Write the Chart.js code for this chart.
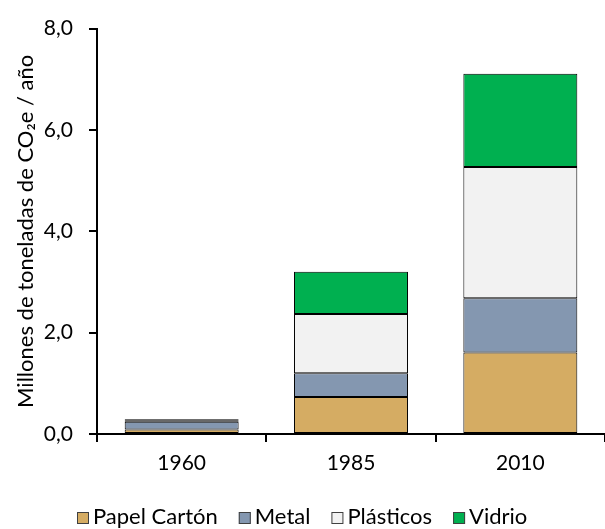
<!DOCTYPE html>
<html>
<head>
<meta charset="utf-8">
<script src="https://cdn.jsdelivr.net/npm/chart.js@4.4.1/dist/chart.umd.min.js"></script>
<style>
    html, body { margin: 0; padding: 0; background: #fff; }
    #wrap { width: 605px; height: 529px; position: relative; }
</style>
</head>
<body>
<div id="wrap"><canvas id="grafico"></canvas></div>
<script>
// datos (millones de t CO2e / año)
const categorias = ['1960', '1985', '2010'];
const papelCarton = [0.09, 0.73, 1.61];
const metal = [0.15, 0.47, 1.07];
const plasticos = [0.02, 1.17, 2.59];
const vidrio = [0.03, 0.83, 1.84];
const ticksY = [0, 2, 4, 6, 8];

const fuenteTicks = { family: 'Lato', size: 21 };
const fuenteTitulo = { family: 'Lato', size: 22 };

function serie(nombre, valores, color) {
    return {
        label: nombre,
        data: valores,
        backgroundColor: color,
        borderColor: '#000000',
        borderWidth: 1,
        borderSkipped: false,
        categoryPercentage: 1,
        barPercentage: 0.673
    };
}

// leyenda propia: cuadro pequeño pegado al texto, como en el original
const leyendaPlugin = {
    id: 'leyenda',
    afterDraw: function (chart) {
        const c = chart.ctx;
        const caja = 12, sepTexto = 4, sepItem = 21, base = 524;
        c.save();
        c.font = '22px Lato';
        c.textBaseline = 'alphabetic';
        c.textAlign = 'left';
        const items = chart.data.datasets.map(function (ds) {
            return { texto: ds.label, color: ds.backgroundColor, ancho: c.measureText(ds.label).width };
        });
        let total = sepItem * (items.length - 1);
        items.forEach(function (it) { total += caja + sepTexto + it.ancho; });
        let x = Math.round((chart.width - total) / 2);
        items.forEach(function (it) {
            c.fillStyle = it.color;
            c.fillRect(x, base - caja, caja, caja);
            c.strokeStyle = '#404040';
            c.lineWidth = 1;
            c.strokeRect(x + 0.5, base - caja + 0.5, caja - 1, caja - 1);
            c.fillStyle = '#000000';
            c.fillText(it.texto, x + caja + sepTexto, base);
            x += caja + sepTexto + it.ancho + sepItem;
        });
        c.restore();
    }
};

const ctx = document.getElementById('grafico').getContext('2d');
new Chart(ctx, {
    type: 'bar',
    data: {
        labels: categorias,
        datasets: [
            serie('Papel Cartón', papelCarton, '#D5AC63'),
            serie('Metal', metal, '#8497B0'),
            serie('Plásticos', plasticos, '#F2F2F2'),
            serie('Vidrio', vidrio, '#00B050')
        ]
    },
    plugins: [leyendaPlugin],
    options: {
        responsive: true,
        maintainAspectRatio: false,
        animation: false,
        layout: {
            padding: { top: 26, right: 0, bottom: 42, left: 0 }
        },
        plugins: {
            legend: { display: false },
            tooltip: { enabled: false }
        },
        scales: {
            x: {
                stacked: true,
                afterFit: function (scale) { scale.height = 53; },
                grid: {
                    display: true,
                    drawOnChartArea: false,
                    offset: true,
                    color: '#000000',
                    lineWidth: 2,
                    tickLength: 8
                },
                border: { display: true, color: '#000000', width: 2 },
                ticks: { font: fuenteTicks, color: '#000000', padding: 9 }
            },
            y: {
                stacked: true,
                min: 0,
                max: 8,
                afterFit: function (scale) { scale.width = 97; },
                afterBuildTicks: function (scale) {
                    scale.ticks = ticksY.map(v => ({ value: v }));
                },
                grid: {
                    display: true,
                    drawOnChartArea: false,
                    color: '#000000',
                    lineWidth: 2,
                    tickLength: 8
                },
                border: { display: true, color: '#000000', width: 2 },
                ticks: {
                    font: fuenteTicks,
                    color: '#000000',
                    padding: 16,
                    callback: function (valor) {
                        return valor.toFixed(1).replace('.', ',');
                    }
                },
                title: {
                    display: true,
                    text: 'Millones de toneladas de CO₂e / año',
                    font: fuenteTitulo,
                    color: '#000000',
                    padding: { top: 13, bottom: 0 }
                }
            }
        }
    }
});
</script>
</body>
</html>
